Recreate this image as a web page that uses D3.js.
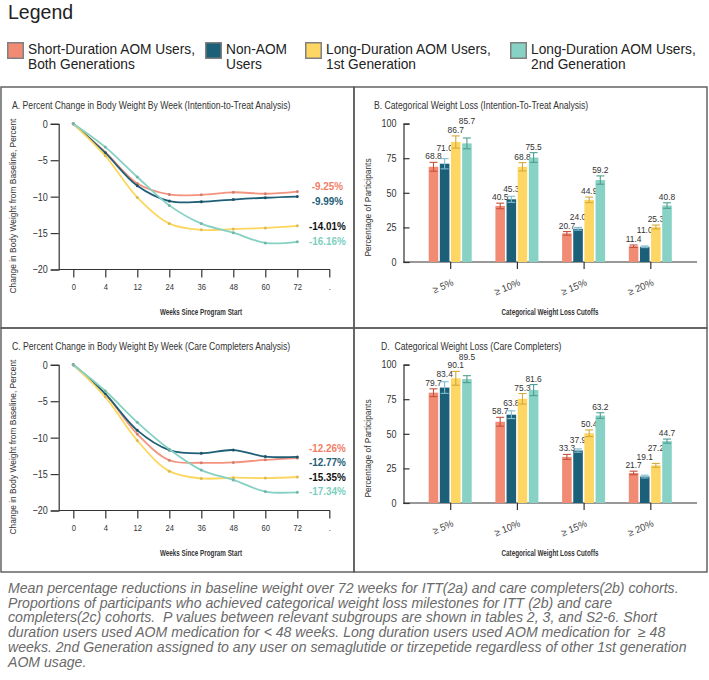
<!DOCTYPE html>
<html>
<head>
<meta charset="utf-8">
<script src="https://cdn.jsdelivr.net/npm/d3@7"></script>
<style>
  body { margin: 0; background: #fff; }
  svg { display: block; font-family: "Liberation Sans", Arial, sans-serif; }
</style>
</head>
<body>
<svg id="chart" width="709" height="680"></svg>
<script>
// ---- data ----
const seriesKeys = ["short", "non", "long1", "long2"];
const legendLines = [
  ["Short-Duration AOM Users,", "Both Generations"],
  ["Non-AOM", "Users"],
  ["Long-Duration AOM Users,", "1st Generation"],
  ["Long-Duration AOM Users,", "2nd Generation"]
];

// weekly curves (x categories, last one is the empty "." slot)
const weekTicks = ["0", "4", "12", "24", "36", "48", "60", "72", "."];
const weeks = ["0", "4", "12", "24", "36", "48", "60", "72"];

const ittShort = [0, -3.9, -8.2, -9.7, -9.75, -9.4, -9.6, -9.3];
const ittNon   = [0, -4.0, -8.5, -10.6, -10.7, -10.4, -10.15, -9.99];
const ittLong1 = [0, -4.4, -10.1, -13.7, -14.55, -14.45, -14.3, -14.01];
const ittLong2 = [0, -3.2, -7.3, -11.2, -13.7, -14.95, -16.35, -16.2];
const ittEndLabels = ["-9.25%", "-9.99%", "-14.01%", "-16.16%"];

const ccShort = [0, -4.0, -9.5, -13.1, -13.45, -13.4, -13.05, -12.8];
const ccNon   = [0, -4.0, -9.0, -11.7, -12.15, -11.7, -12.6, -12.65];
const ccLong1 = [0, -4.4, -10.4, -14.6, -15.6, -15.5, -15.55, -15.4];
const ccLong2 = [0, -3.6, -7.9, -11.6, -14.45, -15.8, -17.4, -17.5];
const ccEndLabels = ["-12.26%", "-12.77%", "-15.35%", "-17.34%"];

// categorical weight loss
const cutoffs = ["\u2265 5%", "\u2265 10%", "\u2265 15%", "\u2265 20%"];

const ittBarShort = [68.8, 40.5, 20.7, 11.4];
const ittBarNon   = [71.0, 45.3, 24.0, 11.0];
const ittBarLong1 = [86.7, 68.8, 44.9, 25.3];
const ittBarLong2 = [85.7, 75.5, 59.2, 40.8];
const ittErrShort = [3.2, 2.0, 1.3, 0.9];
const ittErrNon   = [3.7, 2.2, 1.0, 0.6];
const ittErrLong1 = [4.4, 3.0, 2.0, 1.4];
const ittErrLong2 = [3.9, 3.5, 3.0, 2.0];

const ccBarShort = [79.7, 58.7, 33.3, 21.7];
const ccBarNon   = [83.4, 63.8, 37.9, 19.1];
const ccBarLong1 = [90.1, 75.3, 50.4, 27.2];
const ccBarLong2 = [89.5, 81.6, 63.2, 44.7];
const ccErrShort = [2.8, 3.2, 1.8, 1.3];
const ccErrNon   = [4.2, 2.8, 1.2, 1.0];
const ccErrLong1 = [5.0, 3.8, 2.4, 1.4];
const ccErrLong2 = [2.5, 4.0, 2.0, 1.5];

const captionLines = [
  "Mean percentage reductions in baseline weight over 72 weeks for ITT(2a) and care completers(2b) cohorts.",
  "Proportions of participants who achieved categorical weight loss milestones for ITT (2b) and care",
  "completers(2c) cohorts.  P values between relevant subgroups are shown in tables 2, 3, and S2-6. Short",
  "duration users used AOM medication for < 48 weeks. Long duration users used AOM medication for  \u2265 48",
  "weeks. 2nd Generation assigned to any user on semaglutide or tirzepetide regardless of other 1st generation",
  "AOM usage."
];

// ---- styles ----
const barColor  = { short: "#f28b74", non: "#1b5f78", long1: "#fdd664", long2: "#87d2c4" };
const errColor  = { short: "#c4513d", non: "#80bdd0", long1: "#d8a93a", long2: "#4f9e91" };
const lineColor = { short: "#f4937f", non: "#1e5e76", long1: "#fdd65f", long2: "#85d1c3" };
const labColor  = { short: "#f27e67", non: "#1e5e76", long1: "#111111", long2: "#7ccfc0" };
const ink = "#333";
const SX = 0.84; // the source figure is horizontally condensed

const svg = d3.select("#chart");

function txt(g, x, y, s, size, opt = {}) {
  return g.append("text")
    .attr("transform", `translate(${x},${y}) scale(${opt.sx ?? SX},1)` + (opt.rot ? ` rotate(${opt.rot})` : ""))
    .attr("text-anchor", opt.anchor || "start")
    .style("font-size", size + "px")
    .style("font-weight", opt.weight || "normal")
    .style("fill", opt.fill || ink)
    .style("white-space", "pre")
    .text(s);
}

function squash(sel, sx) {
  sel.each(function () {
    const t = d3.select(this);
    const x = +t.attr("x") || 0;
    t.attr("x", x / sx).attr("transform", `scale(${sx},1)`);
  });
}

// ---- legend ----
svg.append("text").attr("x", 8).attr("y", 19)
  .style("font-size", "19.5px").style("fill", "#222").text("Legend");

const legendX = [7, 205, 305, 510];
seriesKeys.forEach((k, i) => {
  svg.append("rect").attr("x", legendX[i] + 0.75).attr("y", 42.75)
    .attr("width", 15.5).attr("height", 15.5)
    .attr("fill", barColor[k]).attr("stroke", "#808080").attr("stroke-width", 1.5);
  legendLines[i].forEach((l, j) => {
    txt(svg, legendX[i] + 21, 54 + j * 15, l, 14, { sx: 0.98, fill: "#222" });
  });
});

// ---- panel frames ----
[[1, 87, 353, 241], [354, 87, 353, 241], [1, 328, 353, 244], [354, 328, 353, 244]]
  .forEach(b => svg.append("rect").attr("x", b[0]).attr("y", b[1]).attr("width", b[2]).attr("height", b[3])
    .attr("fill", "none").attr("stroke", "#595959").attr("stroke-width", 1.4));

// ---- line panels ----
function drawLines(T, title, rows, endLabels) {
  const g = svg.append("g");
  const x = d3.scalePoint().domain(weekTicks).range([73.3, 329.3]);
  const y = d3.scaleLinear().domain([-20, 0]).range([T + 182.5, T + 36.8]);

  txt(g, 12, T + 21.5, title, 10.3);

  const ya = g.append("g").attr("transform", "translate(58.7,0)")
    .call(d3.axisLeft(y).tickValues([0, -5, -10, -15, -20]).tickSize(8).tickPadding(3).tickFormat(d3.format("d")));
  ya.selectAll("path,line").attr("stroke", ink).attr("stroke-width", 1.2);
  ya.selectAll("text").style("font-size", "10.5px").style("fill", ink).style("font-family", "Liberation Sans, Arial");
  squash(ya.selectAll("text"), 0.86);

  const xa = g.append("g").attr("transform", `translate(0,${y(-20)})`)
    .call(d3.axisBottom(x).tickSize(8).tickPadding(6));
  xa.select(".domain").remove();
  xa.selectAll("line").attr("stroke", ink).attr("stroke-width", 1.2);
  xa.selectAll("text").style("font-size", "9.5px").style("fill", ink).style("font-family", "Liberation Sans, Arial");
  squash(xa.selectAll("text"), 0.8);
  g.append("line").attr("x1", 58.7).attr("x2", 330).attr("y1", y(-20)).attr("y2", y(-20))
    .attr("stroke", ink).attr("stroke-width", 1.2);

  txt(g, 201, T + 228, "Weeks Since Program Start", 8.5, { anchor: "middle", weight: "bold", sx: 0.74 });
  txt(g, 16, T + 119, "Change in Body Weight from Baseline, Percent", 8.4, { anchor: "middle", rot: -90, sx: 1 });

  const line = d3.line().x((d, i) => x(weeks[i])).y(d => y(d)).curve(d3.curveCatmullRom.alpha(0.5));
  seriesKeys.forEach((k, si) => {
    g.append("path").datum(rows[si]).attr("d", line)
      .attr("fill", "none").attr("stroke", lineColor[k]).attr("stroke-width", 1.8);
    g.selectAll(null).data(rows[si]).enter().append("circle")
      .attr("cx", (d, i) => x(weeks[i])).attr("cy", d => y(d)).attr("r", 1.5)
      .attr("fill", d3.color(lineColor[k]).darker(0.4));
  });

  // end labels, placed at their value and spread so they do not collide
  const ys = endLabels.map(s => y(parseFloat(s)));
  for (let it = 0; it < 30; it++) {
    for (let i = 1; i < ys.length; i++) {
      const gap = ys[i] - ys[i - 1];
      if (gap < 14.5) { const d = (14.5 - gap) / 2; ys[i - 1] -= d; ys[i] += d; }
    }
  }
  endLabels.forEach((s, i) => {
    txt(g, 327.5, ys[i] + 3.8, s, 11, { anchor: "middle", weight: "bold", fill: labColor[seriesKeys[i]], sx: 0.9 });
  });
}

drawLines(87, "A. Percent Change in Body Weight By Week (Intention-to-Treat Analysis)",
  [ittShort, ittNon, ittLong1, ittLong2], ittEndLabels);
drawLines(328, "C. Percent Change in Body Weight By Week (Care Completers Analysis)",
  [ccShort, ccNon, ccLong1, ccLong2], ccEndLabels);

// ---- bar panels ----
function drawBars(T, titleX, title, vals, errs) {
  const g = svg.append("g");
  const x0 = d3.scalePoint().domain(cutoffs).range([403.5, 697]).padding(0.7);
  const x1 = d3.scaleBand().domain(seriesKeys).range([-21.5, 21.5]).paddingInner(0.14);
  const y = d3.scaleLinear().domain([0, 100]).range([T + 175, T + 36.6]);

  txt(g, titleX, T + 21.5, title, 10.3);

  const ya = g.append("g").attr("transform", "translate(403.5,0)")
    .call(d3.axisLeft(y).tickValues([0, 25, 50, 75, 100]).tickSize(-6).tickPadding(7));
  ya.selectAll("path,line").attr("stroke", ink).attr("stroke-width", 1.2);
  ya.selectAll("text").style("font-size", "10.5px").style("fill", ink).style("font-family", "Liberation Sans, Arial");
  squash(ya.selectAll("text"), 0.86);

  const xa = g.append("g").attr("transform", `translate(0,${y(0)})`)
    .call(d3.axisBottom(x0).tickSize(7).tickFormat(""));
  xa.select(".domain").remove();
  xa.selectAll("line").attr("stroke", ink).attr("stroke-width", 1.2);
  g.append("line").attr("x1", 403.5).attr("x2", 697).attr("y1", y(0)).attr("y2", y(0))
    .attr("stroke", ink).attr("stroke-width", 1.2);

  cutoffs.forEach(c => {
    txt(g, x0(c) + 4, y(0) + 23, c, 10, { anchor: "end", rot: -22, sx: 0.95, fill: "#444" });
  });

  txt(g, 550, T + 228, "Categorical Weight Loss Cutoffs", 8.5, { anchor: "middle", weight: "bold", sx: 0.74 });
  txt(g, 371, T + 120.5, "Percentage of Participants", 8.4, { anchor: "middle", rot: -90, sx: 1 });

  const LW = 15.5, LH = 8.6; // value label box
  cutoffs.forEach((c, ci) => {
    const placed = [];
    seriesKeys.forEach((k, si) => {
      const v = vals[si][ci], e = errs[si][ci];
      const bx = x0(c) + x1(k), bw = x1.bandwidth(), cx = bx + bw / 2;
      g.append("rect").attr("x", bx).attr("y", y(v)).attr("width", bw).attr("height", y(0) - y(v))
        .attr("fill", barColor[k]);
      const eg = g.append("g").attr("stroke", errColor[k]).attr("stroke-width", 1.1);
      eg.append("line").attr("x1", cx).attr("x2", cx).attr("y1", y(v - e)).attr("y2", y(v + e));
      [v - e, v + e].forEach(t => eg.append("line").attr("x1", cx - 4).attr("x2", cx + 4).attr("y1", y(t)).attr("y2", y(t)));

      // value label above the error bar, stacked upward if it hits a neighbour
      let base = y(v + e) - 3;
      for (let it = 0; it < 10; it++) {
        const hit = placed.find(p => Math.abs(p.x - cx) < LW && Math.abs(p.base - base) < LH - 0.01);
        if (!hit) break;
        base = hit.base - LH;
      }
      placed.push({ x: cx, base });
      txt(g, cx, base, v.toFixed(1), 9.8, { anchor: "middle", sx: 0.86 });
    });
  });
}

drawBars(87, 374, "B. Categorical Weight Loss (Intention-To-Treat Analysis)",
  [ittBarShort, ittBarNon, ittBarLong1, ittBarLong2], [ittErrShort, ittErrNon, ittErrLong1, ittErrLong2]);
drawBars(328, 381, "D.  Categorical Weight Loss (Care Completers)",
  [ccBarShort, ccBarNon, ccBarLong1, ccBarLong2], [ccErrShort, ccErrNon, ccErrLong1, ccErrLong2]);

// ---- caption ----
const cap = svg.append("g");
captionLines.forEach((l, i) => {
  cap.append("text").attr("x", 8).attr("y", 593 + i * 14.7)
    .style("font-size", "14.1px").style("font-style", "italic").style("fill", "#6a6a6a")
    .style("white-space", "pre").text(l);
});
</script>
</body>
</html>
